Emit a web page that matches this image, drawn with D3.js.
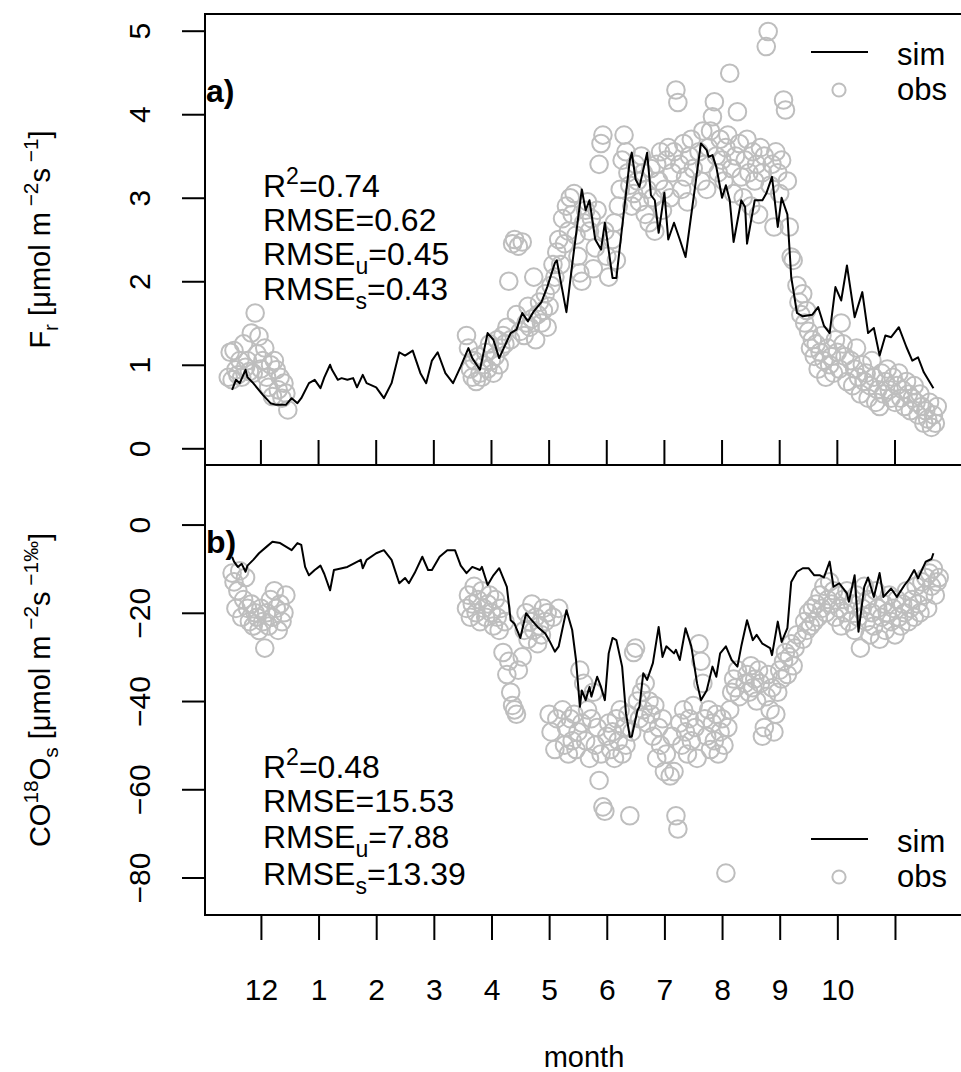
<!DOCTYPE html>
<html>
<head>
<meta charset="utf-8">
<script src="https://cdn.jsdelivr.net/npm/d3@7"></script>
<style>
	body { margin: 0; background: #fff; }
	svg { display: block; font-family: "Liberation Sans", Arial, sans-serif; }
</style>
</head>
<body>
<svg id="chart"></svg>
<script>
// x values are days since 1 Dec, ticks every 30 days
var monthTicks = [0, 30, 60, 90, 120, 150, 180, 210, 240, 270, 300, 330],
	monthLabels = ["12", "1", "2", "3", "4", "5", "6", "7", "8", "9", "10", ""];

// panel a) soil respiration F_r
var frSim = [[-15,0.70],[-13,0.82],[-11,0.78],[-8,0.94],[-7,0.85],[-4,0.78],[1,0.64],[5,0.54],[8,0.52],[13,0.52],[16,0.60],[19,0.54],[21,0.60],[25,0.78],[28,0.82],[31,0.72],[33,0.85],[36,1.00],[37,0.94],[40,0.82],[42,0.84],[45,0.82],[48,0.84],[50,0.73],[53,0.88],[55,0.78],[60,0.73],[64,0.60],[68,0.78],[72,1.15],[75,1.11],[79,1.17],[83,0.90],[86,0.78],[89,1.05],[92,1.15],[96,0.90],[100,0.78],[104,0.98],[108,1.20],[110,1.08],[114,0.94],[118,1.38],[121,1.30],[124,1.08],[130,1.38],[133,1.42],[136,1.62],[139,1.52],[142,1.64],[146,1.75],[149,1.93],[153,2.22],[154,2.25],[159,1.63],[162,2.20],[167,3.10],[169,2.85],[171,2.97],[174,2.50],[177,2.38],[179,2.70],[183,2.04],[185,2.04],[188,2.65],[192,3.45],[193,3.54],[195,3.22],[197,3.13],[201,3.54],[203,3.03],[205,2.97],[207,2.58],[210,3.06],[212,2.50],[215,2.70],[218,2.50],[221,2.29],[225,2.97],[229,3.65],[232,3.57],[233,3.49],[235,3.51],[237,3.37],[240,3.00],[242,3.15],[244,2.97],[246,2.47],[250,2.97],[252,2.89],[253,2.45],[257,2.97],[261,2.97],[263,3.05],[266,3.25],[269,2.65],[271,3.00],[274,2.80],[276,2.05],[279,1.62],[282,1.58],[287,1.60],[290,1.69],[293,1.47],[296,1.38],[299,1.93],[302,1.77],[305,2.19],[309,1.57],[313,1.87],[316,1.38],[319,1.44],[322,1.11],[325,1.35],[328,1.33],[332,1.45],[336,1.21],[339,1.05],[342,1.09],[345,0.91],[350,0.72]];

// observed F_r, daily runs: first day of each run and its values
var frObsStart = [-17, 107, 152, 183, 228, 279, 307];
var frObs = [
	[0.85,1.15,0.82,1.17,0.94,0.88,1.05,0.85,1.25,0.97,1.05,0.92,1.38,0.9,1.62,1.13,1.34,0.95,1.05,1.2,0.85,0.73,1.0,0.62,1.05,0.94,0.7,0.85,0.6,0.78,0.66,0.46],
	[1.35,1.2,0.95,0.85,1.05,0.8,1.1,0.9,0.85,1.0,1.15,0.95,1.25,1.05,0.9,1.1,1.3,1.0,1.2,1.35,1.25,1.45,2.0,1.3,2.45,2.5,1.6,2.42,1.4,2.47,1.35,1.5,1.7,1.45,1.55,2.05,1.3,1.6,1.75,1.5,1.65,1.85,1.45,1.7,1.95],
	[2.2,2.05,2.35,2.5,2.2,2.75,2.45,2.9,2.6,3.0,2.8,3.05,2.55,2.3,2.1,2.0,2.7,2.85,2.95,2.6,2.75,2.15,2.4,2.85,3.4,3.65,3.75,2.6,2.3,2.05],
	[2.5,2.7,2.25,2.9,3.1,3.45,3.75,3.55,3.3,3.15,2.9,3.05,3.4,3.2,2.95,3.5,3.3,2.8,3.1,2.7,3.35,3.0,2.6,3.4,3.2,3.55,2.85,3.1,3.45,3.6,3.0,3.3,3.55,4.29,4.14,3.4,3.1,3.65,3.25,2.95,3.5,3.7,3.35],
	[3.55,3.2,3.8,3.4,3.1,3.6,3.8,3.97,4.15,3.5,3.3,3.7,3.45,3.2,3.6,3.75,4.49,3.35,3.05,3.5,4.03,3.65,3.25,3.0,3.45,3.7,3.3,2.9,3.55,3.2,3.4,2.8,3.6,3.3,3.5,4.81,4.99,3.15,3.4,2.65,3.55,3.3,3.05,3.45,4.17,4.05,3.2,2.65,2.29,2.25],
	[1.95,1.75,1.6,1.85,1.5,1.65,1.4,1.2,1.3,1.1,1.25,0.95,1.15,1.35,1.05,0.85,1.2,1.0,1.1,0.9,1.3,1.15,0.95,1.5,1.25,1.1,0.8],
	[1.05,0.75,0.95,1.2,0.85,0.65,1.0,0.8,0.9,0.6,0.75,1.05,0.85,0.55,0.7,0.5,0.9,0.65,0.8,0.95,0.7,0.6,0.85,0.55,0.75,0.9,0.6,0.7,0.5,0.8,0.65,0.45,0.6,0.75,0.55,0.4,0.65,0.5,0.3,0.45,0.35,0.55,0.25,0.4,0.3,0.5]
];

// panel b) soil CO18O flux
var coSim = [[-15,-7.3],[-14,-8.4],[-12,-9.6],[-10,-8.9],[-8,-10.7],[-7,-9.3],[-4,-8.0],[-1,-6.5],[3,-5.0],[6,-3.9],[10,-4.2],[13,-5.0],[16,-5.8],[19,-4.2],[21,-4.6],[23,-9.6],[25,-11.5],[28,-10.3],[31,-9.3],[33,-11.2],[36,-14.9],[38,-10.3],[41,-10.0],[45,-9.6],[48,-8.9],[52,-8.0],[53,-9.9],[55,-8.0],[60,-6.5],[64,-5.8],[68,-8.0],[72,-13.3],[75,-12.1],[77,-13.3],[80,-11.0],[84,-7.3],[87,-10.3],[89,-10.3],[93,-7.3],[97,-5.8],[101,-5.8],[104,-9.3],[107,-11.0],[110,-9.6],[114,-10.3],[115,-9.6],[118,-13.7],[121,-11.5],[124,-9.9],[128,-14.1],[130,-21.7],[132,-22.5],[135,-25.7],[138,-20.1],[140,-21.2],[141,-21.7],[144,-23.2],[148,-24.7],[150,-26.2],[153,-28.8],[155,-27.6],[159,-19.4],[162,-23.9],[164,-30.7],[166,-41.3],[167,-37.6],[169,-39.8],[171,-36.8],[172,-39.0],[175,-34.5],[177,-36.8],[179,-39.8],[181,-29.2],[183,-25.7],[185,-26.2],[188,-32.2],[190,-42.8],[192,-48.1],[193,-48.1],[196,-42.1],[197,-41.3],[199,-33.7],[201,-35.2],[204,-31.4],[207,-23.2],[209,-30.0],[211,-27.6],[215,-29.2],[216,-28.4],[218,-30.7],[221,-23.5],[224,-27.6],[227,-36.0],[229,-39.8],[232,-37.6],[235,-32.2],[237,-34.5],[239,-29.2],[242,-27.6],[245,-30.7],[248,-32.2],[250,-27.6],[253,-21.7],[256,-26.2],[258,-25.0],[261,-27.0],[265,-28.0],[266,-29.6],[269,-22.0],[271,-26.6],[274,-23.5],[276,-13.0],[279,-10.7],[282,-9.9],[285,-9.9],[288,-11.5],[291,-11.5],[293,-12.0],[296,-8.4],[298,-14.1],[301,-13.3],[305,-15.6],[306,-17.5],[309,-11.5],[311,-24.3],[314,-14.1],[316,-12.0],[319,-16.4],[322,-11.0],[324,-16.4],[328,-14.5],[331,-16.4],[335,-13.7],[337,-12.6],[340,-10.3],[342,-12.2],[346,-8.4],[349,-7.8],[350,-6.5]];

var coObsStart = [-15, 107, 136, 157, 182, 213, 252, 282, 308];
var coObs = [
	[-11,-13,-19,-15,-10.5,-21,-17,-12,-19,-22,-18,-23,-20,-21,-24,-19,-22,-28,-20,-23,-17,-21,-15,-19,-24,-18,-22,-20,-16],
	[-19,-16,-21,-18,-14,-20,-17,-22,-15,-19,-21,-18,-16,-20,-23,-17,-21,-24,-19,-29,-22,-34,-31,-38,-41,-42,-43,-33],
	[-30,-24,-20,-26,-22,-18,-24,-21,-27,-23,-25,-19,-22,-20,-43,-47,-21,-51,-44,-19],
	[-42,-50,-46,-52,-44,-49,-43,-51,-47,-33,-45,-36,-49,-42,-53,-44,-38,-50,-46,-58,-52,-64,-65,-48,-45],
	[-51,-47,-53,-44,-49,-42,-52,-46,-50,-43,-66,-47,-29,-28,-40,-44,-38,-42,-36,-45,-40,-43,-48,-41,-53,-46,-50,-44,-56,-52],
	[-57,-48,-56,-66,-69,-45,-50,-42,-47,-52,-44,-49,-41,-46,-53,-27,-31,-36,-44,-48,-42,-51,-45,-49,-43,-52,-47,-44,-50,-79,-46,-42,-38,-35,-37,-33,-39],
	[-36,-34,-38,-32,-37,-35,-40,-33,-36,-48,-46,-39,-34,-42,-37,-47,-43,-38,-33,-35,-31,-29,-34,-30,-27,-32,-28,-25],
	[-26,-22,-24,-20,-23,-19,-22,-18,-21,-16,-19,-14,-20,-17,-13,-18,-15,-21,-16,-19,-23,-17,-20,-15,-22],
	[-18,-24,-16,-21,-28,-19,-14,-22,-17,-25,-20,-23,-15,-19,-26,-21,-18,-24,-20,-16,-22,-19,-25,-17,-21,-23,-18,-20,-15,-22,-19,-17,-21,-14,-18,-20,-13,-16,-12,-19,-11,-14,-10,-16,-13,-12]
];

var frTicks = [0, 1, 2, 3, 4, 5],
	coTicks = [0, -20, -40, -60, -80];

var frStats = [["R", "2", "=0.74"], ["RMSE", "", "=0.62"], ["RMSE", "u", "=0.45"], ["RMSE", "s", "=0.43"]],
	coStats = [["R", "2", "=0.48"], ["RMSE", "", "=15.53"], ["RMSE", "u", "=7.88"], ["RMSE", "s", "=13.39"]];

var W = 961, H = 1072,
	left = 205, right = 963,
	grey = "#bebebe";

var svg = d3.select("#chart").attr("width", W).attr("height", H);

var x = d3.scaleLinear().domain([-29.1, 365.4]).range([left, right]);

function runs(starts, vals) {
	var pts = [];
	vals.forEach(function (run, k) {
		run.forEach(function (v, i) { pts.push([starts[k] + i, v]); });
	});
	return pts;
}

// text with plotmath-like super/subscripts: parts = [[text, "sup"|"sub"|null], ...]
function rich(sel, parts, size) {
	var off = 0;
	parts.forEach(function (p) {
		if (!p[0]) return;
		var shift = p[1] == "sup" ? -0.42 * size : p[1] == "sub" ? 0.28 * size : 0;
		sel.append("tspan")
			.attr("dy", shift - off)
			.style("font-size", (p[1] ? 0.72 * size : size) + "px")
			.text(p[0]);
		off = shift;
	});
}

function panel(o) {
	var g = svg.append("g");
	var y = d3.scaleLinear().domain(o.ydom).range([o.bottom, o.top]);

	// obs circles
	g.append("g").selectAll("circle")
		.data(o.obs)
		.join("circle")
		.attr("cx", function (d) { return x(d[0]); })
		.attr("cy", function (d) { return y(d[1]); })
		.attr("r", 8.8)
		.attr("fill", "none")
		.attr("stroke", grey)
		.attr("stroke-width", 2);

	// sim line
	g.append("path")
		.datum(o.sim)
		.attr("d", d3.line().x(function (d) { return x(d[0]); }).y(function (d) { return y(d[1]); }))
		.attr("fill", "none")
		.attr("stroke", "#000")
		.attr("stroke-width", 2)
		.attr("stroke-linejoin", "round");

	// frame
	g.append("rect")
		.attr("x", left).attr("y", o.top)
		.attr("width", right - left).attr("height", o.bottom - o.top)
		.attr("fill", "none").attr("stroke", "#000").attr("stroke-width", 2);

	// y axis, rotated labels like R
	var ya = g.append("g")
		.attr("transform", "translate(" + left + ",0)")
		.call(d3.axisLeft(y).tickValues(o.yticks).tickSize(23).tickFormat(function (d) {
			return d < 0 ? "\u2212" + Math.abs(d) : d;
		}));
	ya.select(".domain").remove();
	ya.selectAll("line").attr("stroke", "#000").attr("stroke-width", 2);
	ya.selectAll("text")
		.attr("x", null).attr("dy", null)
		.attr("text-anchor", "middle")
		.attr("transform", "translate(-55,0) rotate(-90)")
		.style("font-size", "30px")
		.style("font-family", "Liberation Sans, Arial, sans-serif")
		.attr("fill", "#000");

	// axis title
	var t = g.append("text")
		.attr("transform", "translate(50," + ((o.top + o.bottom) / 2) + ") rotate(-90)")
		.attr("text-anchor", "middle");
	rich(t, o.title, 29);

	// panel letter
	g.append("text")
		.attr("x", left + 1).attr("y", o.top + 88)
		.style("font-size", "32px").style("font-weight", "bold")
		.text(o.letter);

	// statistics
	o.stats.forEach(function (s, i) {
		var st = g.append("text").attr("x", 263).attr("y", o.statsY[i]);
		rich(st, [[s[0], null], [s[1], s[1] == "2" ? "sup" : "sub"], [s[2], null]], 32);
	});

	// legend
	var lg = g.append("g").style("font-size", "31px");
	lg.append("line")
		.attr("x1", 811).attr("x2", 868)
		.attr("y1", o.legY).attr("y2", o.legY)
		.attr("stroke", "#000").attr("stroke-width", 2);
	lg.append("text").attr("x", 897).attr("y", o.legY + 13).text("sim");
	lg.append("circle")
		.attr("cx", 839).attr("cy", o.legY + 38).attr("r", 6.6)
		.attr("fill", "none").attr("stroke", grey).attr("stroke-width", 2);
	lg.append("text").attr("x", 897).attr("y", o.legY + 48).text("obs");

	return y;
}

panel({
	top: 14, bottom: 465, ydom: [-0.2, 5.2], yticks: frTicks,
	obs: runs(frObsStart, frObs), sim: frSim,
	title: [["F", null], ["r", "sub"], [" [\u03bcmol m", null], [" \u22122", "sup"], ["s", null], [" \u22121", "sup"], ["]", null]],
	letter: "a)", stats: frStats, statsY: [197, 231, 265, 300], legY: 52
});

panel({
	top: 465, bottom: 915, ydom: [-88.5, 13.5], yticks: coTicks,
	obs: runs(coObsStart, coObs), sim: coSim,
	title: [["CO", null], ["18", "sup"], ["O", null], ["s", "sub"], [" [\u03bcmol m", null], [" \u22122", "sup"], ["s", null], [" \u22121\u2030", "sup"], ["]", null]],
	letter: "b)", stats: coStats, statsY: [778, 812, 848, 885], legY: 839
});

// ticks on the shared border (pointing up into panel a)
svg.append("g").selectAll("line")
	.data(monthTicks)
	.join("line")
	.attr("x1", function (d) { return x(d); }).attr("x2", function (d) { return x(d); })
	.attr("y1", 440).attr("y2", 465)
	.attr("stroke", "#000").attr("stroke-width", 2);

// bottom month axis
var xa = svg.append("g")
	.attr("transform", "translate(0,915)")
	.call(d3.axisBottom(x).tickValues(monthTicks).tickSize(25).tickPadding(60)
		.tickFormat(function (d, i) { return monthLabels[i]; }));
xa.select(".domain").remove();
xa.selectAll("line").attr("stroke", "#000").attr("stroke-width", 2);
xa.selectAll("text")
	.attr("dy", null)
	.style("font-size", "30px")
	.style("font-family", "Liberation Sans, Arial, sans-serif")
	.attr("fill", "#000");

svg.append("text")
	.attr("x", (left + right) / 2).attr("y", 1067)
	.attr("text-anchor", "middle")
	.style("font-size", "29px")
	.text("month");
</script>
</body>
</html>
